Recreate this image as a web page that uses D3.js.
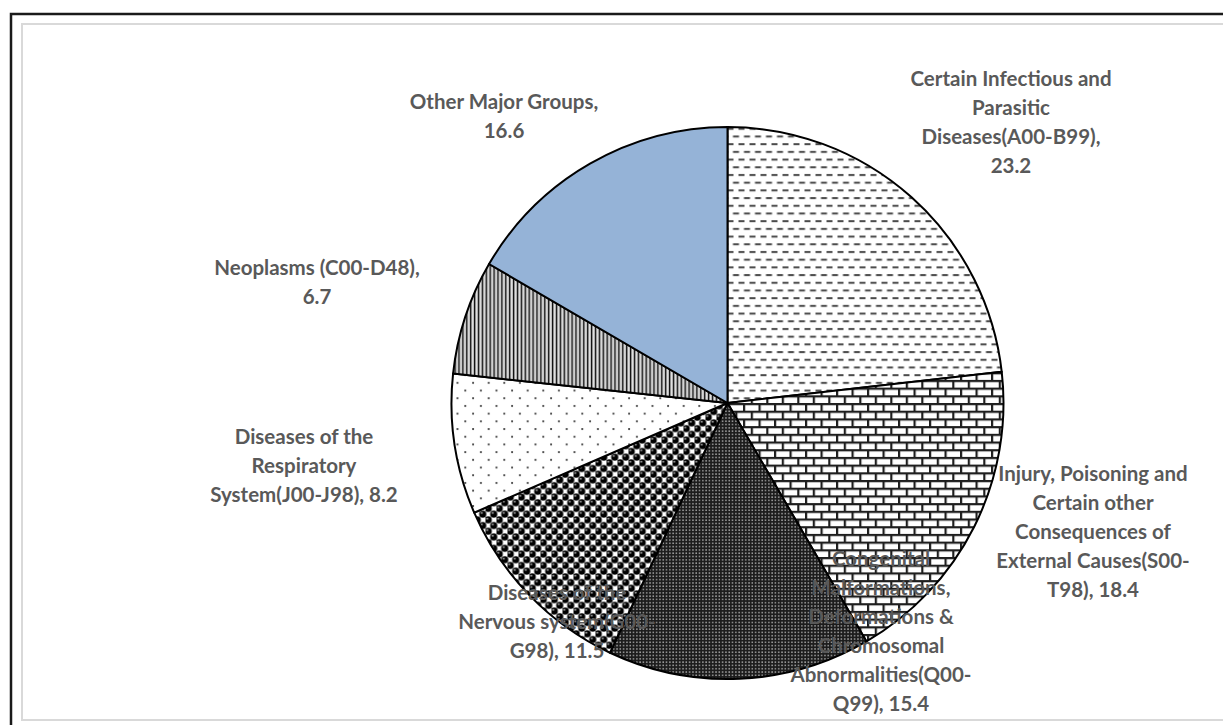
<!DOCTYPE html>
<html>
<head>
<meta charset="utf-8">
<script src="https://cdn.jsdelivr.net/npm/d3@7"></script>
<style>
  body { margin: 0; background: #fff; }
  .lbl { font-family: Lato, "Open Sans", sans-serif; font-weight: bold; font-size: 20.5px; fill: #595959; }
</style>
</head>
<body>
<div id="chart"></div>
<script>
var categories = ["Certain Infectious and Parasitic Diseases(A00-B99)",
                  "Injury, Poisoning and Certain other Consequences of External Causes(S00-T98)",
                  "Congenital Malformations, Deformations & Chromosomal Abnormalities(Q00-Q99)",
                  "Diseases of the Nervous system(G00-G98)",
                  "Diseases of the Respiratory System(J00-J98)",
                  "Neoplasms (C00-D48)",
                  "Other Major Groups"];
var values = [23.2, 18.4, 15.4, 11.5, 8.2, 6.7, 16.6];
// label text as wrapped in the picture, {v} = the value
var labelLines = [
  ["Certain Infectious and", "Parasitic", "Diseases(A00-B99),", "{v}"],
  ["Injury, Poisoning and", "Certain other", "Consequences of", "External Causes(S00-", "T98), {v}"],
  ["Congenital", "Malformations,", "Deformations &", "Chromosomal", "Abnormalities(Q00-", "Q99), {v}"],
  ["Diseases of the", "Nervous system(G00-", "G98), {v}"],
  ["Diseases of the", "Respiratory", "System(J00-J98), {v}"],
  ["Neoplasms (C00-D48),", "{v}"],
  ["Other Major Groups,", "{v}"]
];

var width = 1223, height = 725,
    cx = 727.5, cy = 403, radius = 276, lineH = 29;

// label block centres, relative to the pie centre
var labelOffset = [[283.5, -281], [365.5, 129], [153.5, 228.5], [-170.5, 219],
                   [-423.5, 63], [-410.5, -121], [-223.5, -286.5]];

var svg = d3.select("#chart").append("svg")
    .attr("width", width)
    .attr("height", height);

svg.append("rect").attr("width", width).attr("height", height).attr("fill", "#fff");

var defs = svg.append("defs");

// 0: dashed horizontal
var p0 = defs.append("pattern").attr("id", "p0").attr("patternUnits", "userSpaceOnUse")
    .attr("width", 11).attr("height", 15.4);
p0.append("rect").attr("width", 11).attr("height", 15.4).attr("fill", "#fff");
p0.append("rect").attr("x", 0).attr("y", 2).attr("width", 6).attr("height", 2).attr("fill", "#4a4a4a");
p0.append("rect").attr("x", 5.5).attr("y", 9.7).attr("width", 5.5).attr("height", 2).attr("fill", "#4a4a4a");
p0.append("rect").attr("x", 0).attr("y", 9.7).attr("width", 0.5).attr("height", 2).attr("fill", "#4a4a4a");

// 1: horizontal brick
var p1 = defs.append("pattern").attr("id", "p1").attr("patternUnits", "userSpaceOnUse")
    .attr("width", 15.5).attr("height", 15.4);
p1.append("rect").attr("width", 15.5).attr("height", 15.4).attr("fill", "#fff");
p1.append("rect").attr("x", 0).attr("y", 0).attr("width", 15.5).attr("height", 2.2).attr("fill", "#1e1e1e");
p1.append("rect").attr("x", 0).attr("y", 7.7).attr("width", 15.5).attr("height", 2.2).attr("fill", "#1e1e1e");
p1.append("rect").attr("x", 0).attr("y", 0).attr("width", 2.2).attr("height", 7.7).attr("fill", "#1e1e1e");
p1.append("rect").attr("x", 7.75).attr("y", 7.7).attr("width", 2.2).attr("height", 7.7).attr("fill", "#1e1e1e");

// 2: dark fine grid
var p2 = defs.append("pattern").attr("id", "p2").attr("patternUnits", "userSpaceOnUse")
    .attr("width", 3.3).attr("height", 3.3);
p2.append("rect").attr("width", 3.3).attr("height", 3.3).attr("fill", "#1c1c1c");
p2.append("rect").attr("x", 1).attr("y", 1).attr("width", 1.5).attr("height", 1.5).attr("fill", "#a0a0a0");

// 3: spheres
var p3 = defs.append("pattern").attr("id", "p3").attr("patternUnits", "userSpaceOnUse")
    .attr("width", 11).attr("height", 11.4);
p3.append("rect").attr("width", 11).attr("height", 11.4).attr("fill", "#fff");
[[2.75, 2.85], [8.25, 8.55]].forEach(function(c) {
  p3.append("circle").attr("cx", c[0]).attr("cy", c[1]).attr("r", 3.6).attr("fill", "#000");
  p3.append("circle").attr("cx", c[0] - 1).attr("cy", c[1] - 1.2).attr("r", 1).attr("fill", "#b0b0b0");
});
[[8.25, -2.85], [-2.75, 8.55], [13.75, 8.55], [8.25, 14.25], [2.75, 14.25]].forEach(function(c) {
  p3.append("circle").attr("cx", c[0]).attr("cy", c[1]).attr("r", 3.6).attr("fill", "#000");
});

// 4: sparse dots
var p4 = defs.append("pattern").attr("id", "p4").attr("patternUnits", "userSpaceOnUse")
    .attr("width", 15.6).attr("height", 15.4);
p4.append("rect").attr("width", 15.6).attr("height", 15.4).attr("fill", "#fff");
p4.append("circle").attr("cx", 3).attr("cy", 3).attr("r", 1.1).attr("fill", "#3c3c3c");
p4.append("circle").attr("cx", 10.8).attr("cy", 10.7).attr("r", 1.1).attr("fill", "#3c3c3c");

// 5: narrow vertical
var p5 = defs.append("pattern").attr("id", "p5").attr("patternUnits", "userSpaceOnUse")
    .attr("width", 3.9).attr("height", 4);
p5.append("rect").attr("width", 3.9).attr("height", 4).attr("fill", "#bdbdbd");
p5.append("rect").attr("x", 0).attr("width", 1.6).attr("height", 4).attr("fill", "#111");
p5.append("rect").attr("x", 1.6).attr("width", 0.9).attr("height", 4).attr("fill", "#fff");

var fills = ["url(#p0)", "url(#p1)", "url(#p2)", "url(#p3)", "url(#p4)", "url(#p5)", "#95b3d7"];

// frames
svg.append("rect").attr("x", 11).attr("y", 14).attr("width", 1240).attr("height", 740)
    .attr("fill", "none").attr("stroke", "#1a1a1a").attr("stroke-width", 2.5);
svg.append("rect").attr("x", 22).attr("y", 24).attr("width", 1240).attr("height", 696)
    .attr("fill", "none").attr("stroke", "#d9d9d9").attr("stroke-width", 2);

var pie = d3.pie().sort(null).value(function(d) { return d; });
var arc = d3.arc().innerRadius(0).outerRadius(radius);

var g = svg.append("g").attr("transform", "translate(" + cx + "," + cy + ")");

g.selectAll("path.slice")
  .data(pie(values))
  .enter().append("path")
    .attr("class", "slice")
    .attr("d", arc)
    .attr("fill", function(d, i) { return fills[i]; })
    .attr("stroke", "#000")
    .attr("stroke-width", 2)
    .attr("stroke-linejoin", "round");

var labels = g.selectAll("text.lbl")
  .data(values)
  .enter().append("text")
    .attr("class", "lbl")
    .attr("text-anchor", "middle");

labels.each(function(v, i) {
  var lines = labelLines[i], n = lines.length, t = d3.select(this);
  lines.forEach(function(s, k) {
    t.append("tspan")
      .attr("x", labelOffset[i][0])
      .attr("y", labelOffset[i][1] + (k - (n - 1) / 2) * lineH)
      .attr("dy", "0.35em")
      .text(s.replace("{v}", d3.format(".1f")(v)));
  });
});
</script>
</body>
</html>
